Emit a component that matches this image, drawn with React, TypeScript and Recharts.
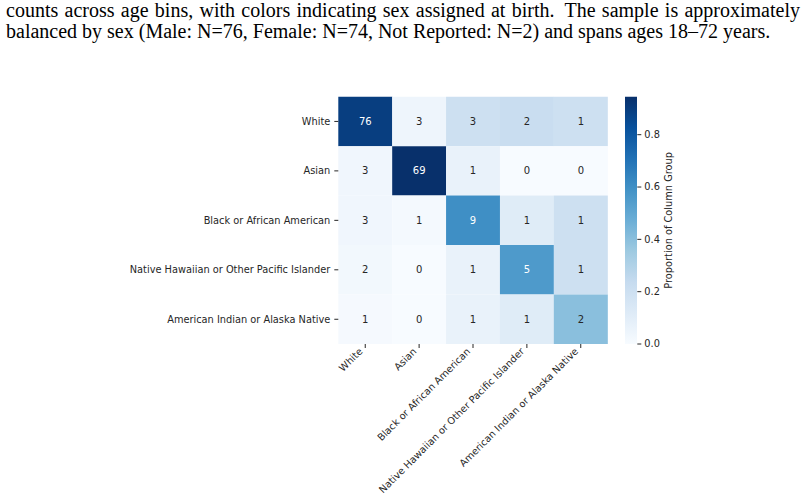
import React from "react";
import {
  Bar,
  BarChart,
  Cell,
  LabelList,
  XAxis,
  YAxis,
} from "recharts";

const groups = [
  "White",
  "Asian",
  "Black or African American",
  "Native Hawaiian or Other Pacific Islander",
  "American Indian or Alaska Native",
];

// rows = self-reported group, columns = comparison group
const counts = [
  [76, 3, 3, 2, 1],
  [3, 69, 1, 0, 0],
  [3, 1, 9, 1, 1],
  [2, 0, 1, 5, 1],
  [1, 0, 1, 1, 2],
];

const colorbarTicks = [0, 0.2, 0.4, 0.6, 0.8];

const captionLines = [
  "counts across age bins, with colors indicating sex assigned at birth.\u2002The sample is approximately",
  "balanced by sex (Male: N=76, Female: N=74, Not Reported: N=2) and spans ages 18\u201372 years.",
];

// matplotlib "Blues" anchor colours
const BLUES = [
  [247, 251, 255],
  [222, 235, 247],
  [198, 219, 239],
  [158, 202, 225],
  [107, 174, 214],
  [66, 146, 198],
  [33, 113, 181],
  [8, 81, 156],
  [8, 48, 107],
];

const blues = (t: number): number[] => {
  const c = Math.max(0, Math.min(1, t)) * (BLUES.length - 1);
  const i = Math.min(Math.floor(c), BLUES.length - 2);
  const f = c - i;
  return BLUES[i].map((v, k) => v + (BLUES[i + 1][k] - v) * f);
};

const toHex = (rgb: number[]) =>
  "#" + rgb.map((v) => Math.round(v).toString(16).padStart(2, "0")).join("");

const luminance = (rgb: number[]) => {
  const lin = rgb.map((v) => {
    const c = v / 255;
    return c <= 0.03928 ? c / 12.92 : Math.pow((c + 0.055) / 1.055, 2.4);
  });
  return 0.2126 * lin[0] + 0.7152 * lin[1] + 0.0722 * lin[2];
};

const colTotals = groups.map((_, j) => counts.reduce((s, row) => s + row[j], 0));
const proportions = counts.map((row) => row.map((v, j) => v / colTotals[j]));
const vmax = Math.max(...proportions.flat());

// one category per column, each row stacked as a unit-height segment
const chartData = groups.map((name) => {
  const entry: Record<string, string | number> = { name };
  groups.forEach((_, i) => {
    entry[`r${i}`] = 1;
  });
  return entry;
});

const FONT = "'DejaVu Sans', sans-serif";
const INK = "#262626";
const TICK_FONT = 9.8;

const XTick = (props: any) => {
  const { x, y, payload } = props;
  const px = x - 2;
  const py = y + 2;
  return (
    <text
      x={px}
      y={py}
      transform={`rotate(-45, ${px}, ${py})`}
      textAnchor="end"
      fontSize={TICK_FONT}
      fontFamily={FONT}
      fill={INK}
    >
      {payload.value}
    </text>
  );
};

const YTick = (props: any) => {
  const { x, y, payload } = props;
  return (
    <text
      x={x - 2}
      y={y}
      textAnchor="end"
      dominantBaseline="central"
      fontSize={TICK_FONT}
      fontFamily={FONT}
      fill={INK}
    >
      {groups[Math.floor(payload.value)]}
    </text>
  );
};

const countLabel = (row: number) => (props: any) => {
  const { x, y, width, height, index } = props;
  const rgb = blues(proportions[row][index] / vmax);
  const fill = luminance(rgb) > 0.408 ? INK : "#ffffff";
  return (
    <text
      x={x + width / 2}
      y={y + height / 2}
      textAnchor="middle"
      dominantBaseline="central"
      fontSize={10}
      fontFamily={FONT}
      fill={fill}
    >
      {counts[row][index]}
    </text>
  );
};

const App = () => {
  return (
    <div
      style={{
        position: "absolute",
        left: 0,
        top: 0,
        width: 805,
        height: 504,
        background: "#fff",
        overflow: "hidden",
      }}
    >
      <div
        style={{
          position: "absolute",
          left: 6,
          top: 0,
          width: 794,
          fontFamily: "'Liberation Serif', 'Times New Roman', serif",
          fontSize: 20,
          lineHeight: "21px",
          color: "#000",
        }}
      >
        {captionLines.map((line, i) => (
          <div
            key={i}
            style={{
              whiteSpace: "nowrap",
              textAlign: i === 0 ? "justify" : "left",
              textAlignLast: i === 0 ? "justify" : "left",
            } as React.CSSProperties}
          >
            {line}
          </div>
        ))}
      </div>

      <div style={{ position: "absolute", left: 0, top: 0 }}>
        <BarChart
          width={805}
          height={504}
          data={chartData}
          margin={{ top: 96.7, right: 197.3, bottom: 10, left: 118.3 }}
          barCategoryGap={0}
          barGap={0}
        >
          <XAxis
            dataKey="name"
            type="category"
            height={150}
            axisLine={false}
            tickSize={4}
            tickLine={{ stroke: INK }}
            tick={<XTick />}
            interval={0}
          />
          <YAxis
            type="number"
            domain={[0, 5]}
            reversed
            ticks={[0.5, 1.5, 2.5, 3.5, 4.5]}
            width={220}
            axisLine={false}
            tickSize={4}
            tickMargin={2}
            tickLine={{ stroke: INK }}
            tick={<YTick />}
            interval={0}
          />
          {groups.map((_, i) => (
            <Bar
              key={i}
              dataKey={`r${i}`}
              stackId="grid"
              isAnimationActive={false}
            >
              {groups.map((__, j) => (
                <Cell key={j} fill={toHex(blues(proportions[i][j] / vmax))} />
              ))}
              <LabelList content={countLabel(i)} />
            </Bar>
          ))}
        </BarChart>
      </div>

      <div style={{ position: "absolute", left: 0, top: 0 }}>
        <BarChart
          width={805}
          height={504}
          data={[{ name: "scale", value: vmax }]}
          margin={{ top: 96.7, right: 107.7, bottom: 160, left: 625 }}
          barCategoryGap={0}
        >
          <defs>
            <linearGradient id="bluesRamp" x1="0" y1="1" x2="0" y2="0">
              {BLUES.map((c, k) => (
                <stop
                  key={k}
                  offset={k / (BLUES.length - 1)}
                  stopColor={toHex(c)}
                />
              ))}
            </linearGradient>
          </defs>
          <XAxis dataKey="name" hide />
          <YAxis
            orientation="right"
            type="number"
            domain={[0, vmax]}
            ticks={colorbarTicks}
            tickFormatter={(v: number) => v.toFixed(1)}
            width={60}
            axisLine={false}
            tickSize={4}
            tickMargin={3}
            tickLine={{ stroke: INK }}
            tick={{ fontSize: TICK_FONT, fontFamily: FONT, fill: INK }}
            interval={0}
            label={(props: any) => {
              const vb = props.viewBox;
              const cx = vb.x + 31;
              const cy = vb.y + vb.height / 2;
              return (
                <text
                  x={cx}
                  y={cy}
                  transform={`rotate(-90, ${cx}, ${cy})`}
                  textAnchor="middle"
                  dominantBaseline="central"
                  fontSize={TICK_FONT}
                  fontFamily={FONT}
                  fill={INK}
                >
                  Proportion of Column Group
                </text>
              );
            }}
          />
          <Bar
            dataKey="value"
            fill="url(#bluesRamp)"
            isAnimationActive={false}
          />
        </BarChart>
      </div>
    </div>
  );
};

export default App;
